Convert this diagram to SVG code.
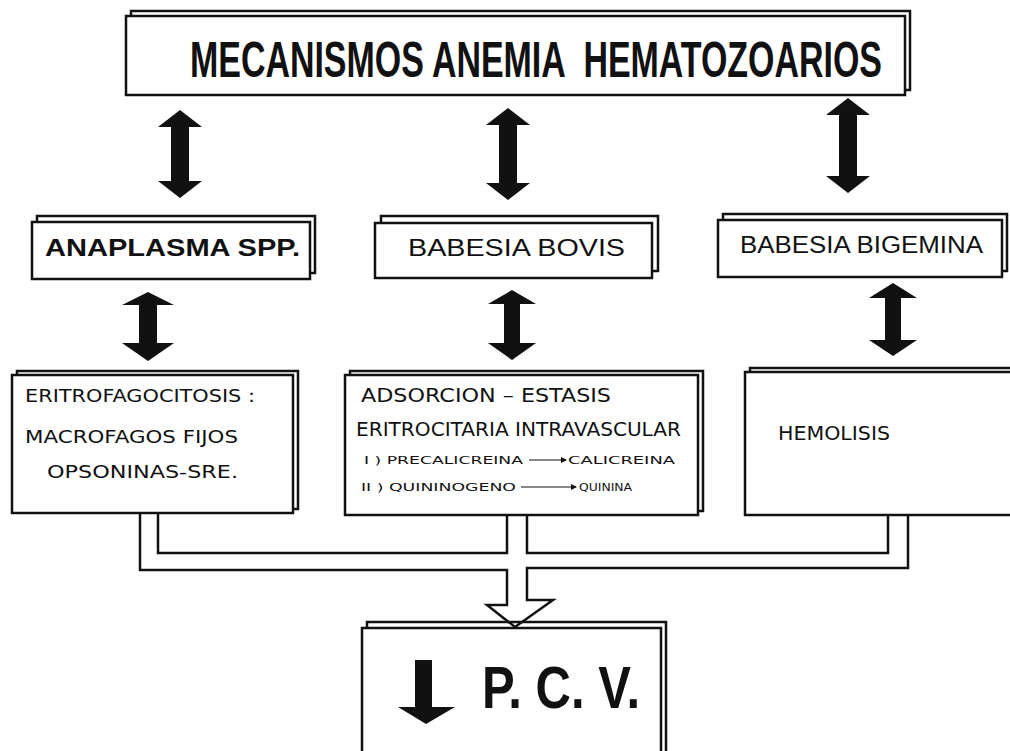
<svg xmlns="http://www.w3.org/2000/svg" width="1010" height="751" viewBox="0 0 1010 751">
<style>
.bk{fill:#fff;stroke:#111;stroke-width:2.5}
.fr{fill:#fff;stroke:#111;stroke-width:2.5}
.arr{fill:#111;stroke:none}
.pipe{fill:none;stroke:#111;stroke-width:2.5;stroke-linejoin:miter}
.ttl{font-family:"Liberation Sans",Arial,sans-serif;font-weight:bold;fill:#111}
.lbl{font-family:"Liberation Sans",Arial,sans-serif;fill:#111}
.thin{font-family:"DejaVu Sans","Liberation Sans",sans-serif;font-weight:normal;fill:#111}
</style>
<defs>
<marker id="ah" markerWidth="6" markerHeight="6" refX="5" refY="3" orient="auto" markerUnits="userSpaceOnUse">
<path d="M0,0 L6,3 L0,6 Z" fill="#111"/>
</marker>
</defs>

<g id="title">
<rect class="bk" x="131" y="11" width="779" height="79"/>
<rect class="fr" x="126" y="16" width="779" height="79"/>
<text class="ttl" transform="translate(190,77) scale(0.62,1)" x="0" y="0" font-size="50" textLength="1116" lengthAdjust="spacingAndGlyphs" xml:space="preserve" style="white-space:pre">MECANISMOS ANEMIA  HEMATOZOARIOS</text>
</g>

<g id="anaplasma">
<rect class="bk" x="37" y="216" width="278" height="57"/>
<rect class="fr" x="32" y="222" width="278" height="57"/>
<text class="lbl" x="45" y="256" font-size="24" font-weight="bold" textLength="255" lengthAdjust="spacingAndGlyphs">ANAPLASMA  SPP.</text>
</g>

<g id="bovis">
<rect class="bk" x="381" y="216" width="277" height="55"/>
<rect class="fr" x="375" y="223" width="277" height="55"/>
<text class="lbl" x="408" y="256" font-size="23" textLength="217" lengthAdjust="spacingAndGlyphs">BABESIA  BOVIS</text>
</g>

<g id="bigemina">
<rect class="bk" x="723" y="214" width="284" height="57"/>
<rect class="fr" x="718" y="220" width="284" height="57"/>
<text class="lbl" x="740" y="253" font-size="23" textLength="243" lengthAdjust="spacingAndGlyphs">BABESIA  BIGEMINA</text>
</g>

<g id="eritrofagocitosis">
<rect class="bk" x="17" y="371" width="281" height="138"/>
<rect class="fr" x="12" y="375" width="281" height="138"/>
<text class="thin" x="25" y="402" font-size="18" textLength="230" lengthAdjust="spacingAndGlyphs">ERITROFAGOCITOSIS :</text>
<text class="thin" x="25" y="443" font-size="18" textLength="213" lengthAdjust="spacingAndGlyphs">MACROFAGOS FIJOS</text>
<text class="thin" x="47" y="478" font-size="18" textLength="191" lengthAdjust="spacingAndGlyphs">OPSONINAS-SRE.</text>
</g>

<g id="adsorcion">
<rect class="bk" x="350" y="371" width="353" height="140"/>
<rect class="fr" x="345" y="375" width="353" height="140"/>
<text class="thin" x="361" y="402" font-size="20" textLength="250" lengthAdjust="spacingAndGlyphs">ADSORCION – ESTASIS</text>
<text class="thin" x="356" y="436" font-size="20" textLength="325" lengthAdjust="spacingAndGlyphs">ERITROCITARIA  INTRAVASCULAR</text>
<text class="thin" x="364" y="464" font-size="11" textLength="159" lengthAdjust="spacingAndGlyphs">I )  PRECALICREINA</text>
<line x1="529" y1="460" x2="566" y2="460" stroke="#111" stroke-width="1.2" marker-end="url(#ah)"/>
<text class="thin" x="568" y="464" font-size="11" textLength="107" lengthAdjust="spacingAndGlyphs">CALICREINA</text>
<text class="thin" x="361" y="491" font-size="11" textLength="155" lengthAdjust="spacingAndGlyphs">II )  QUININOGENO</text>
<line x1="521" y1="487" x2="576" y2="487" stroke="#111" stroke-width="1.2" marker-end="url(#ah)"/>
<text class="thin" x="579" y="491" font-size="11" textLength="53" lengthAdjust="spacingAndGlyphs">QUININA</text>
</g>

<g id="hemolisis">
<rect class="bk" x="750" y="368" width="280" height="143"/>
<rect class="fr" x="745" y="372" width="280" height="143"/>
<text class="thin" x="778" y="440" font-size="20" textLength="112" lengthAdjust="spacingAndGlyphs">HEMOLISIS</text>
</g>

<g id="pcv">
<rect class="bk" x="367" y="622" width="299" height="140"/>
<rect class="fr" x="362" y="628" width="299" height="140"/>
<path class="arr" d="M415,660 H432 V707 H455 L426,724 L398,707 H415 Z"/>
<text class="ttl" x="482" y="708" font-size="60" textLength="158" lengthAdjust="spacingAndGlyphs">P. C. V.</text>
</g>

<g id="connectors">
<path class="arr" d="M180,110 L202,127 L189,127 L189,181 L202,181 L180,198 L158,181 L171,181 L171,127 L158,127 Z"/>
<path class="arr" d="M508,108 L530,125 L517,125 L517,183 L530,183 L508,200 L486,183 L499,183 L499,125 L486,125 Z"/>
<path class="arr" d="M848,98 L870,115 L857,115 L857,176 L870,176 L848,193 L826,176 L839,176 L839,115 L826,115 Z"/>
<path class="arr" d="M148,292 L174,305 L157,305 L157,343 L174,343 L148,361 L122,343 L139,343 L139,305 L122,305 Z"/>
<path class="arr" d="M512,290 L536,304 L520,304 L520,343 L536,343 L512,360 L488,343 L504,343 L504,304 L488,304 Z"/>
<path class="arr" d="M893,283 L917,298 L901,298 L901,340 L917,340 L893,356 L869,340 L885,340 L885,298 L869,298 Z"/>
<path class="pipe" d="M140,513 V570 H507 V605 H487 L515,627 L553,600 H527 V568 H908 V515"/>
<path class="pipe" d="M158,513 V553 H507 V515" stroke-width="4"/>
<path class="pipe" d="M527,515 V553 H888 V515" stroke-width="3"/>
</g>
</svg>
